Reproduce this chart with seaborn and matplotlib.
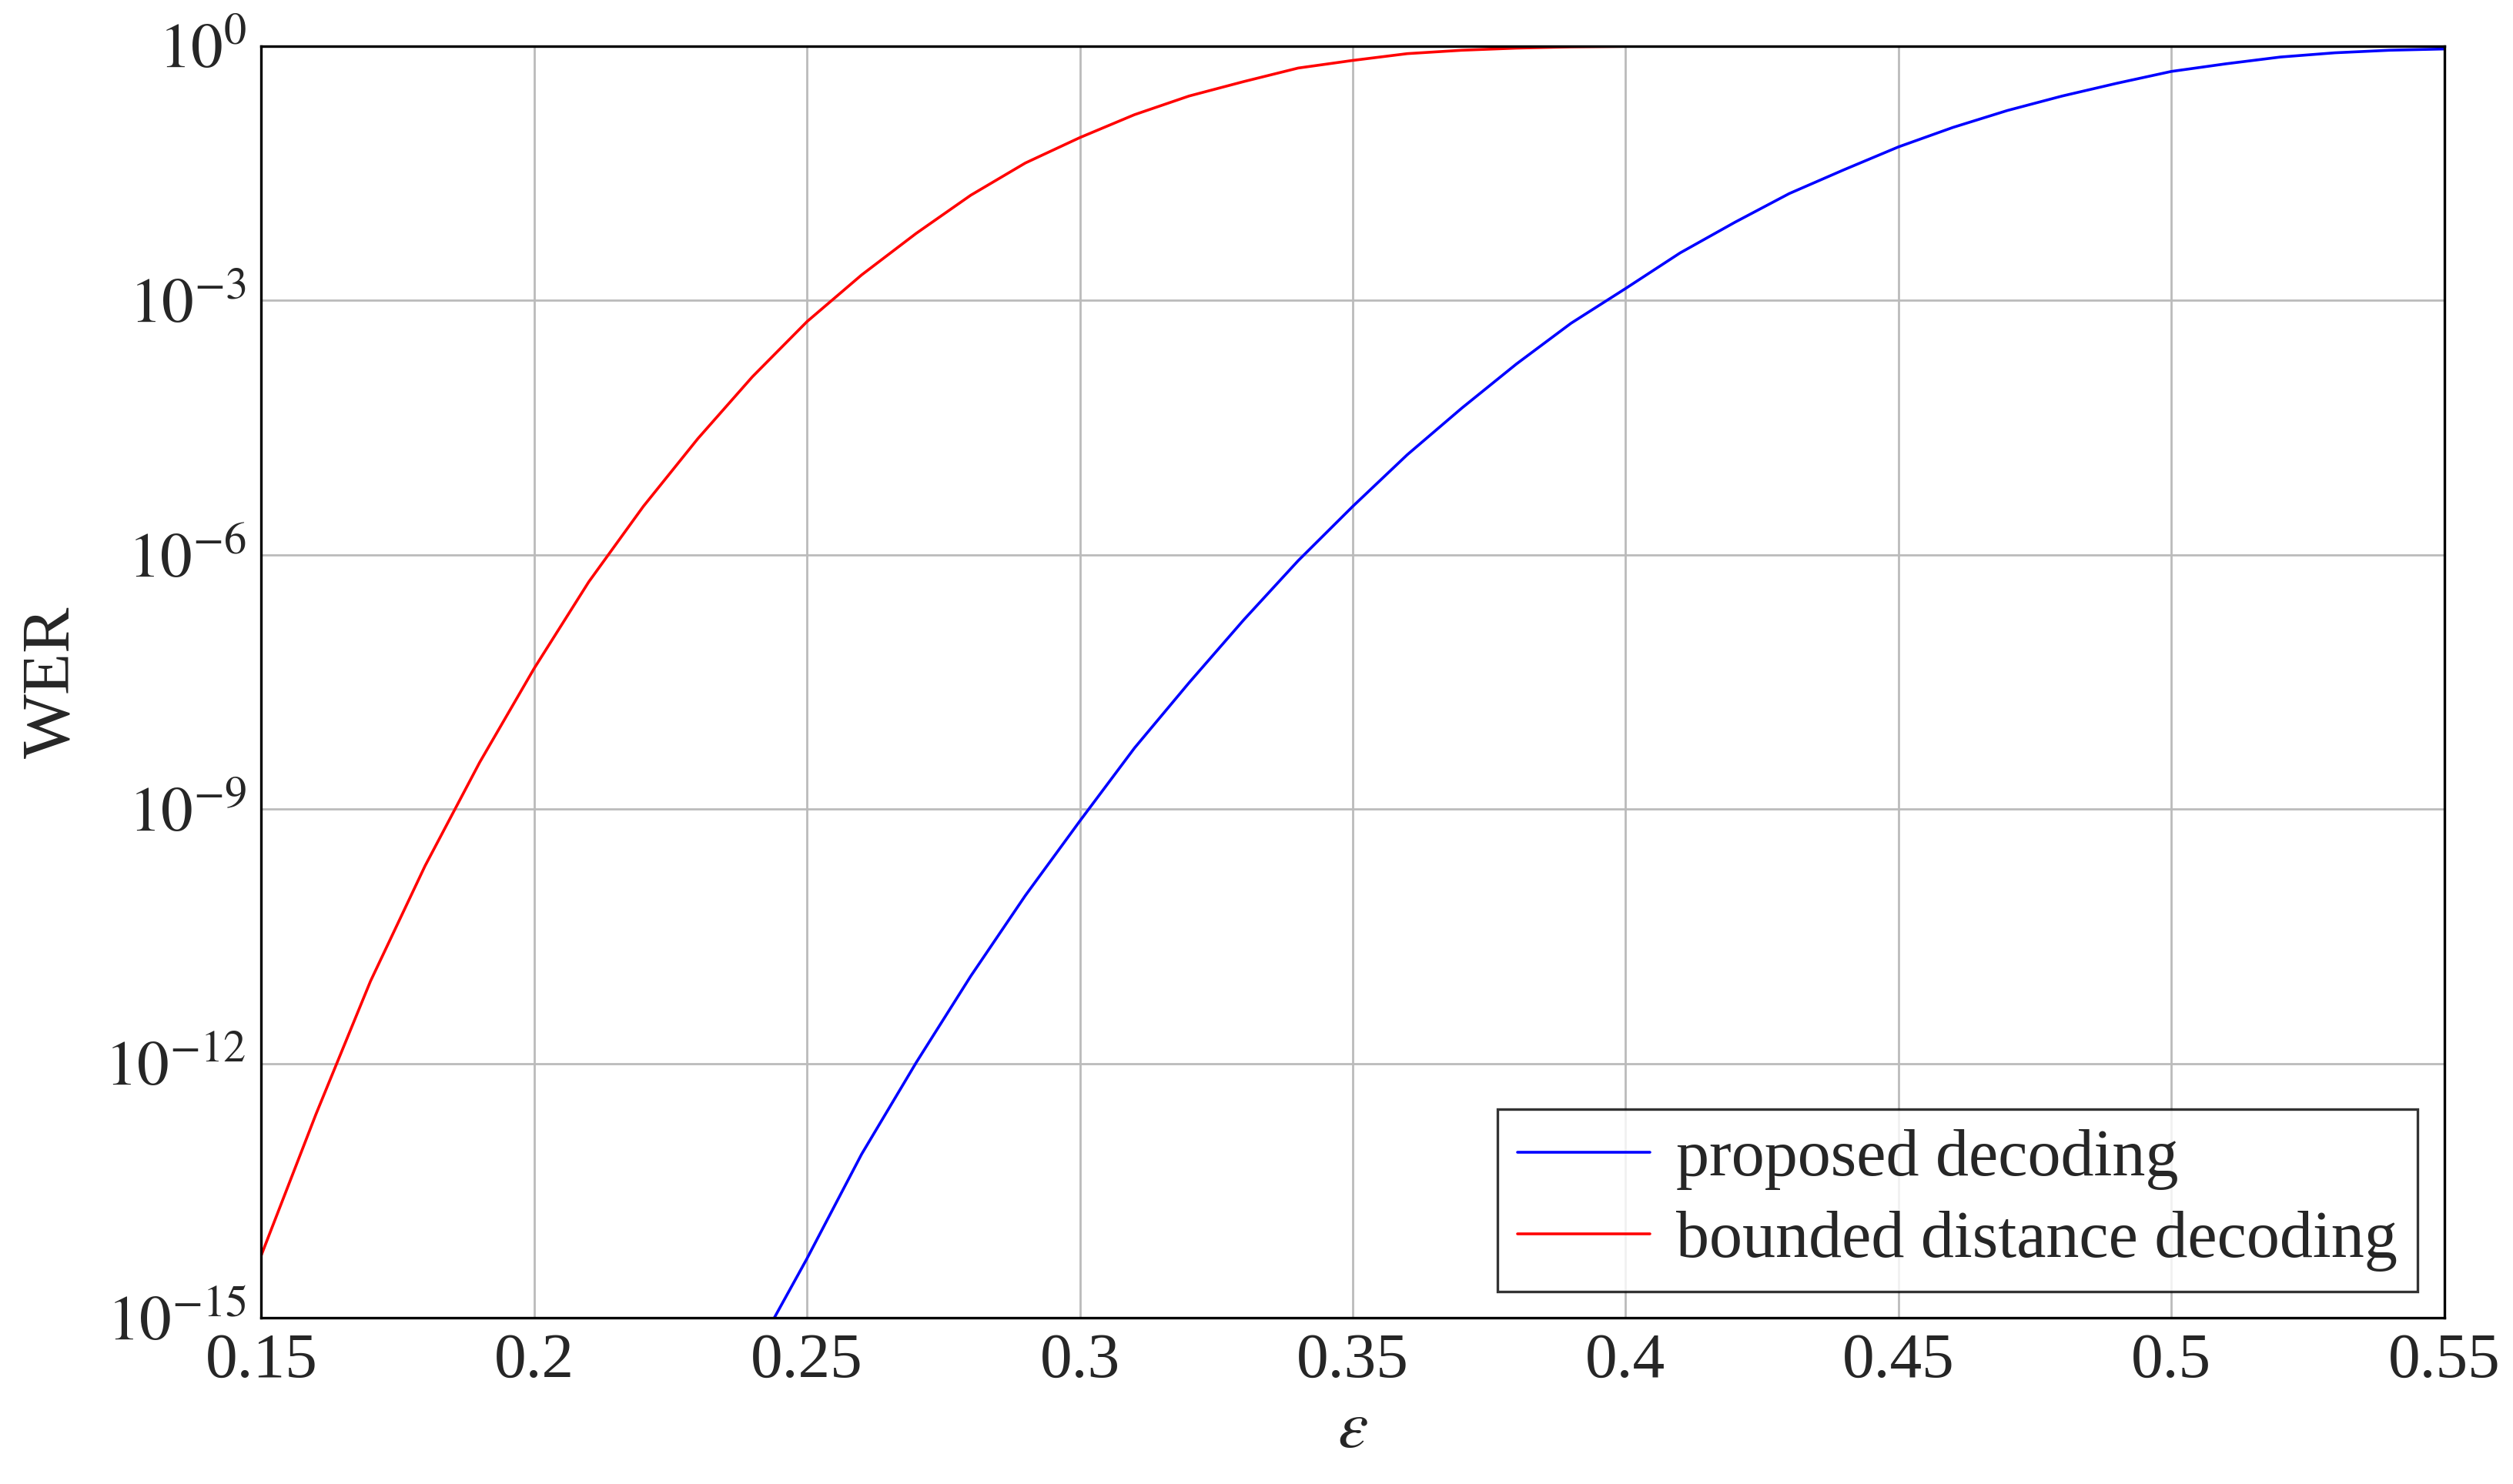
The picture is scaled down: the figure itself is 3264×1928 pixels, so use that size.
import numpy as np
import pandas as pd
import seaborn as sns
import matplotlib.pyplot as plt

# log10(WER) values
eps_red = [0.15, 0.16, 0.17, 0.18, 0.19, 0.20, 0.21, 0.22, 0.23, 0.24, 0.25, 0.26, 0.27,
           0.28, 0.29, 0.30, 0.31, 0.32, 0.33, 0.34, 0.35, 0.36, 0.37, 0.38, 0.39, 0.40,
           0.45, 0.50, 0.55]
log_red = [-14.26, -12.6, -11.03, -9.67, -8.45, -7.34, -6.32, -5.43, -4.63, -3.9, -3.25,
           -2.7, -2.21, -1.76, -1.38, -1.08, -0.81, -0.59, -0.42, -0.26, -0.17, -0.09,
           -0.05, -0.025, -0.01, -0.004, 0.0, 0.0, 0.0]
eps_blue = [0.244, 0.25, 0.26, 0.27, 0.28, 0.29, 0.30, 0.31, 0.32, 0.33, 0.34, 0.35, 0.36,
            0.37, 0.38, 0.39, 0.40, 0.41, 0.42, 0.43, 0.44, 0.45, 0.46, 0.47, 0.48, 0.49,
            0.50, 0.51, 0.52, 0.53, 0.54, 0.55]
log_blue = [-15.0, -14.3, -13.07, -11.99, -10.97, -10.02, -9.14, -8.28, -7.51, -6.77, -6.07,
            -5.43, -4.82, -4.27, -3.75, -3.27, -2.86, -2.44, -2.08, -1.74, -1.46, -1.19,
            -0.96, -0.76, -0.59, -0.44, -0.3, -0.21, -0.13, -0.08, -0.05, -0.035]

df = pd.concat([
    pd.DataFrame({"eps": eps_blue, "wer": 10.0 ** np.array(log_blue), "method": "proposed decoding"}),
    pd.DataFrame({"eps": eps_red, "wer": 10.0 ** np.array(log_red), "method": "bounded distance decoding"}),
])

sns.set_theme(style="whitegrid")
plt.rcParams['font.family'] = ['Liberation Serif', 'DejaVu Serif']
plt.rcParams['mathtext.fontset'] = 'stix'

fig = plt.figure(figsize=(16.32, 9.64), dpi=200)
ax = fig.add_axes([0.104, 0.112, 0.8686, 0.857])
sns.lineplot(data=df, x="eps", y="wer", hue="method", sort=False, ax=ax,
             palette={"proposed decoding": "blue", "bounded distance decoding": "red"},
             linewidth=1.3)
ax.set_yscale("log")
ax.set_xlim(0.15, 0.55)
ax.set_ylim(1e-15, 1)
ax.set_xticks([0.15, 0.2, 0.25, 0.3, 0.35, 0.4, 0.45, 0.5, 0.55])
ax.set_xticklabels(["0.15", "0.2", "0.25", "0.3", "0.35", "0.4", "0.45", "0.5", "0.55"])
ax.set_yticks([1e-15, 1e-12, 1e-9, 1e-6, 1e-3, 1])
ax.set_yticklabels([r"$10^{-15}$", r"$10^{-12}$", r"$10^{-9}$", r"$10^{-6}$", r"$10^{-3}$", r"$10^{0}$"])
ax.minorticks_off()
ax.grid(True, color="#bbbbbb", linewidth=1.0)
ax.tick_params(labelsize=30, pad=1)
for s in ax.spines.values():
    s.set_color("black")
    s.set_linewidth(1.2)
ax.set_xlabel(r"$\epsilon$", fontsize=32, labelpad=4)
ax.set_ylabel("WER", fontsize=32, labelpad=10)
leg = ax.legend(loc="lower right", fontsize=31, frameon=True, fancybox=False,
                edgecolor="black", borderaxespad=0.4, handlelength=2.0,
                handletextpad=0.4, borderpad=0.3, labelspacing=0.3)
leg.get_frame().set_linewidth(1.2)
leg.set_title(None)
fig.savefig("out.png", dpi=200)
